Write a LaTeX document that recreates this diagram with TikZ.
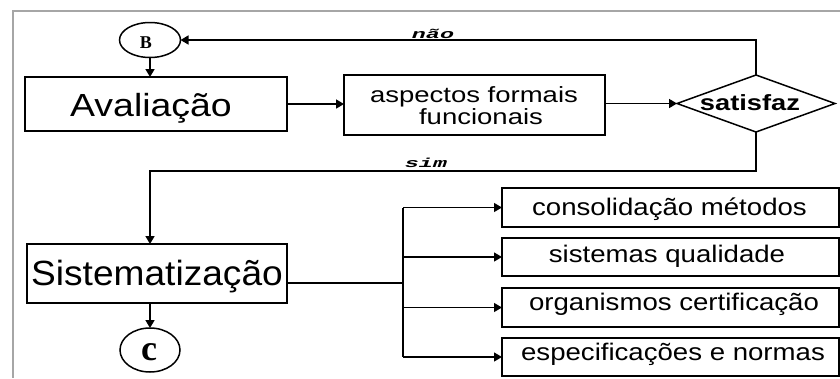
\documentclass[tikz,border=0pt]{standalone}
\usepackage{fontspec}
\setmainfont{Liberation Sans}
\newfontfamily\termfont{Liberation Serif}
\newfontfamily\branchfont{Liberation Mono}
\usetikzlibrary{arrows.meta,shapes.geometric}

% font size helper: size in pt, baseline equal to size
\newcommand{\fsz}[1]{\fontsize{#1}{#1}\selectfont}

\tikzset{
  x=1pt, y=-1pt,
  box/.style={draw, line width=1.7pt, rectangle, inner sep=0pt, outer sep=0pt},
  term/.style={draw, line width=1.5pt, ellipse, inner sep=0pt, outer sep=0pt},
  txt/.style={anchor=base, inner sep=0pt, outer sep=0pt},
  tip/.style={-{Triangle[length=8pt,width=9pt]}},
  flow/.style={line width=1.7pt, tip},
  link/.style={line width=1.3pt},
  branch/.style={line width=1.3pt, tip},
  frameline/.style={draw=black!35, line width=2pt},
}

\begin{document}
\begin{tikzpicture}
\useasboundingbox (0,0) rectangle (840,378);

% page frame (top and left edges)
\draw[frameline] (840,11) -- (13,11) -- (13,378);

% terminals
\node[term, minimum width=61pt, minimum height=35pt] (B) at (150,40) {};
\node[txt] (Blabel) at (146,48) {\termfont\bfseries\fsz{18}B};
\node[term, minimum width=60pt, minimum height=44pt] (C) at (150,350) {};
\node[txt] (Clabel) at (149,360) {\termfont\bfseries\fsz{36}c};

% process boxes
\node[box, minimum width=262pt, minimum height=54pt] (aval) at (156,104) {};
\node[txt] (avaltext) at (151,116) {\scalebox{1.17}[1]{\fsz{32}Avaliação}};

\node[box, minimum width=261pt, minimum height=60pt] (asp) at (474.5,105) {};
\node[txt] (asptext1) at (474,102) {\scalebox{1.25}[1]{\fsz{22}aspectos formais}};
\node[txt] (asptext2) at (481,124) {\scalebox{1.25}[1]{\fsz{22}funcionais}};

\node[box, minimum width=260pt, minimum height=59pt] (sist) at (157,273.5) {};
\node[txt] (sisttext) at (157,285) {\scalebox{1.06}[1]{\fsz{35}Sistematização}};

% decision
\node[draw, line width=1.5pt, diamond, minimum width=158pt, minimum height=57pt,
      inner sep=0pt, outer sep=0pt] (dec) at (756,103.5) {};
\node[txt] (dectext) at (750,110) {\scalebox{1.24}[1]{\fsz{22}\bfseries satisfaz}};

% result boxes
\node[box, minimum width=337pt, minimum height=39pt] (r1) at (670.5,207.5) {};
\node[box, minimum width=337pt, minimum height=38pt] (r2) at (670.5,257) {};
\node[box, minimum width=337pt, minimum height=39pt] (r3) at (670.5,307.5) {};
\node[box, minimum width=337pt, minimum height=38pt] (r4) at (670.5,357) {};
\node[txt] (r1text) at (669.5,215) {\scalebox{1.15}[1]{\fsz{24}consolidação métodos}};
\node[txt] (r2text) at (667,262) {\scalebox{1.15}[1]{\fsz{24}sistemas qualidade}};
\node[txt] (r3text) at (674,310) {\scalebox{1.15}[1]{\fsz{24}organismos certificação}};
\node[txt] (r4text) at (673,360) {\scalebox{1.15}[1]{\fsz{24}especificações e normas}};

% main flow
\draw[flow] (B.south) -- (B.south |- aval.north);
\draw[flow] (aval.east) -- (aval.east -| asp.west);
\draw[flow] (asp.east |- dec.west) -- (dec.west);
\draw[flow] (dec.north) |- (B.east);
\coordinate (simturn) at (150,171);
\draw[flow] (dec.south) |- (simturn) -- (simturn |- sist.north);
\draw[flow] (C.north |- sist.south) -- (C.north);

% branch labels
\node[txt] (nao) at (433,38) {\scalebox{1.8}[1]{\branchfont\bfseries\itshape\fsz{13}não}};
\node[txt] (sim) at (426,167) {\scalebox{1.8}[1]{\branchfont\bfseries\itshape\fsz{13}sim}};

% fan-out to the result boxes
\coordinate (sistout) at (287,283);
\coordinate (forktop) at (403,207.5);
\coordinate (forkbot) at (403,357);
\draw[link] (sistout) -- (sistout -| forktop);
\draw[link] (forktop) -- (forkbot);
\draw[branch] (forktop) -- (r1.west);
\draw[branch] (forktop |- r2.west) -- (r2.west);
\draw[branch] (forktop |- r3.west) -- (r3.west);
\draw[branch] (forkbot) -- (r4.west);
\end{tikzpicture}
\end{document}
